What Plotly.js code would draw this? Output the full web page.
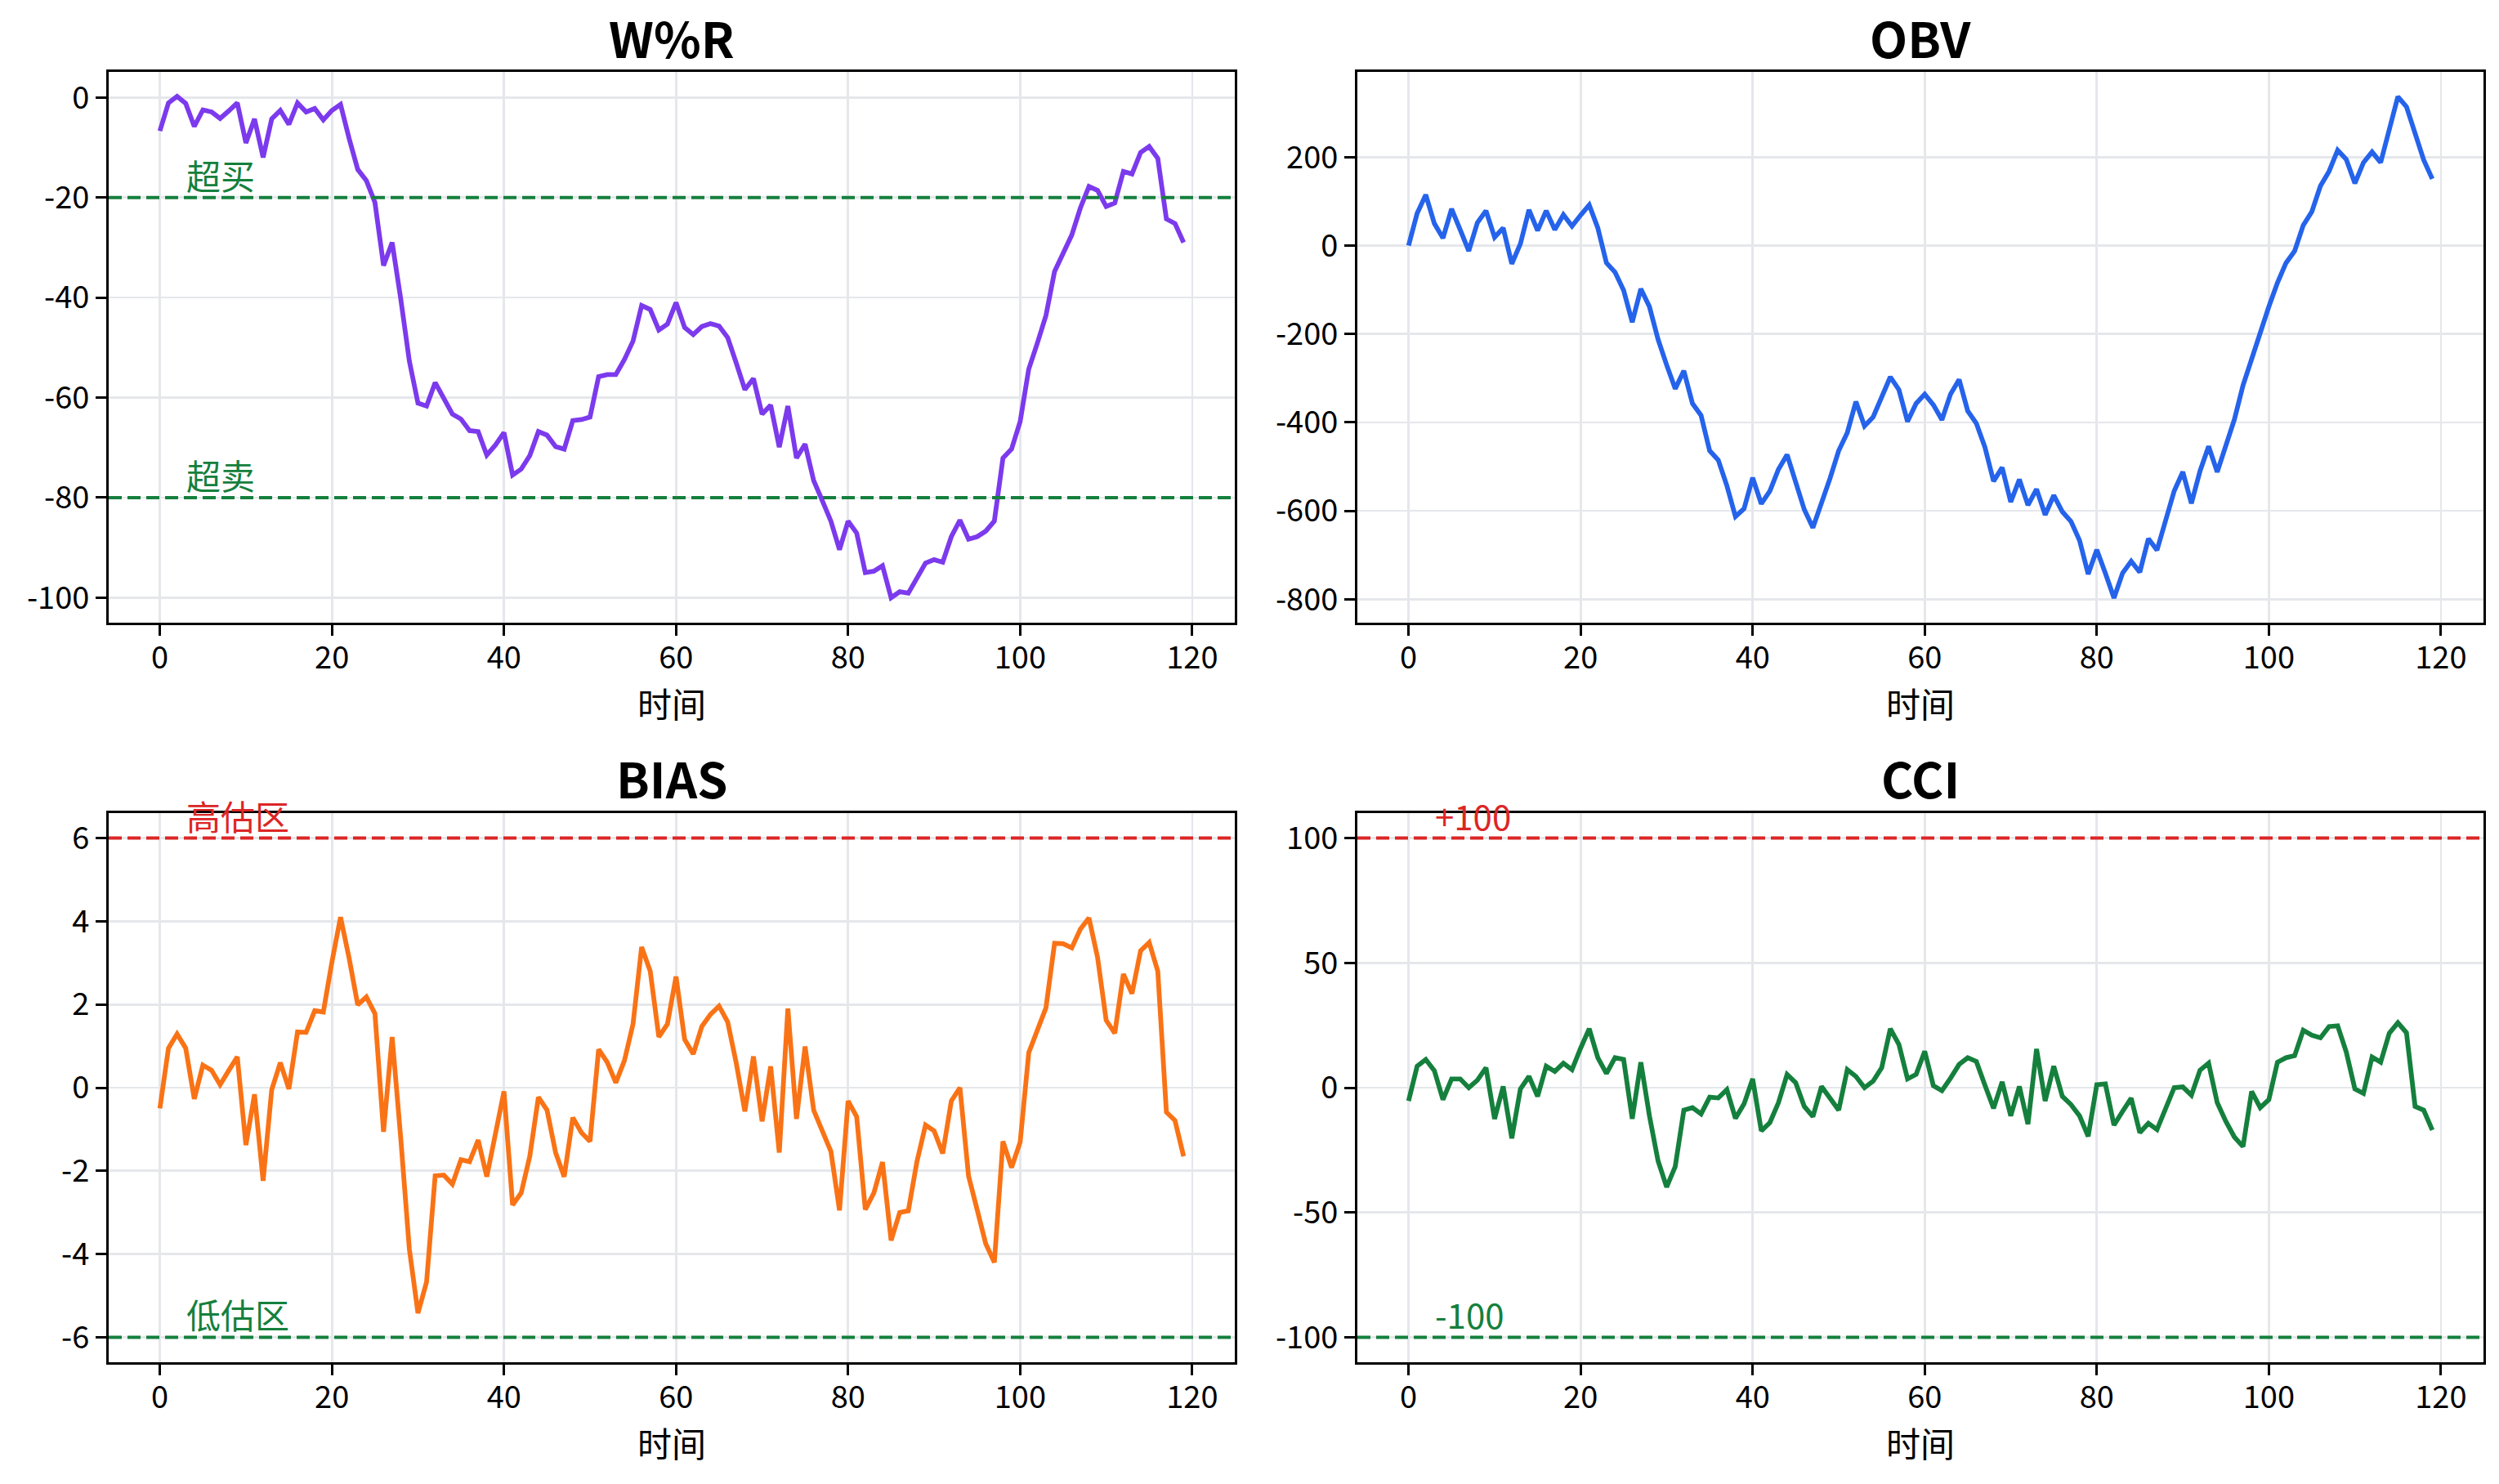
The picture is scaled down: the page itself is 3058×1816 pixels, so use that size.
<!DOCTYPE html>
<html><head><meta charset="utf-8">
<script src="https://cdn.plot.ly/plotly-3.0.1.min.js"></script>
<style>html,body{margin:0;padding:0;background:#fff}</style>
</head><body><div id="chart" style="width:3058px;height:1816px"></div>
<script>
const wr = [-6.7,-1.1,0.2,-1.2,-5.8,-2.5,-2.9,-4.2,-2.7,-1.1,
-9.1,-4.3,-12,-4.3,-2.6,-5.4,-1.1,-2.9,-2.2,-4.5,
-2.6,-1.4,-8.2,-14.4,-16.6,-21,-33.6,-29,-40.3,-52.7,
-61.1,-61.7,-57,-60,-63.3,-64.3,-66.6,-66.8,-71.5,-69.5,
-67,-75.5,-74.3,-71.6,-66.8,-67.5,-69.8,-70.3,-64.6,-64.4,
-63.9,-55.8,-55.4,-55.4,-52.4,-48.7,-41.6,-42.4,-46.5,-45.3,
-41,-46,-47.4,-45.8,-45.2,-45.7,-48,-53.1,-58.4,-56.2,
-63.3,-61.5,-69.9,-61.7,-72.1,-69.3,-76.6,-80.6,-84.7,-90.4,
-84.7,-87.1,-95,-94.7,-93.6,-100,-98.8,-99.1,-96.2,-93.1,
-92.4,-92.9,-87.8,-84.5,-88.3,-87.8,-86.7,-84.7,-72.1,-70.3,
-64.8,-54.3,-49.1,-43.6,-34.8,-31.2,-27.5,-22.1,-17.8,-18.6,
-21.8,-21.1,-14.8,-15.3,-11,-9.8,-12.2,-24.3,-25.2,-29];

const obv = [0,73,115,50,17,83,36,-12,52,79,
19,40,-41,4,81,34,79,36,70,44,
69,92,40,-39,-60,-101,-173,-98,-138,-212,
-270,-324,-283,-357,-384,-464,-485,-543,-613,-595,
-525,-584,-555,-506,-473,-535,-597,-638,-584,-526,
-464,-423,-353,-408,-388,-340,-297,-326,-398,-357,
-336,-360,-394,-336,-303,-374,-402,-456,-533,-502,
-580,-529,-587,-551,-609,-565,-602,-624,-667,-743,
-688,-741,-797,-741,-714,-739,-663,-689,-626,-555,
-512,-583,-510,-454,-512,-448,-393,-316,-254,-194,
-138,-84,-39,-12,46,77,135,168,216,195,
141,188,212,188,263,337,314,255,194,151];

const bias = [-0.5,0.95,1.29,0.95,-0.27,0.54,0.42,0.07,0.41,0.74,
-1.38,-0.16,-2.24,-0.05,0.6,-0.03,1.34,1.33,1.85,1.82,
3.02,4.1,3.11,1.99,2.18,1.78,-1.06,1.22,-1.22,-3.88,
-5.42,-4.67,-2.12,-2.1,-2.32,-1.73,-1.78,-1.26,-2.14,-1.04,
-0.09,-2.82,-2.53,-1.65,-0.23,-0.54,-1.56,-2.14,-0.72,-1.08,
-1.29,0.92,0.61,0.12,0.65,1.53,3.38,2.8,1.22,1.53,
2.67,1.16,0.81,1.47,1.76,1.96,1.58,0.59,-0.57,0.75,
-0.81,0.51,-1.56,1.9,-0.75,0.99,-0.54,-1.04,-1.53,-2.95,
-0.32,-0.7,-2.93,-2.53,-1.79,-3.67,-3.0,-2.96,-1.78,-0.9,
-1.04,-1.58,-0.32,0,-2.12,-2.93,-3.75,-4.2,-1.29,-1.92,
-1.31,0.84,1.4,1.92,3.47,3.46,3.36,3.81,4.08,3.13,
1.62,1.31,2.73,2.26,3.29,3.49,2.8,-0.59,-0.79,-1.65];

const cci = [-5.3,8.6,11.3,6.8,-4.8,3.5,3.5,0,3,8,
-12.5,0.5,-20.3,-0.5,4.5,-3.5,8.6,6.5,9.8,7.2,
15.8,23.6,12,5.7,12,11.3,-12.5,10.2,-11.3,-29.3,
-39.8,-31.6,-9,-8,-10.5,-3.8,-4.1,-0.8,-12.3,-6.5,
3.5,-17.3,-14,-6,5.3,2,-7.5,-11.6,0.5,-4.2,
-9,7.2,4.5,0,2.6,8,23.6,17.3,3.5,5.3,
14.6,0.8,-1.2,3.8,9.3,12,10.5,1,-8.3,2.3,
-11.3,0.5,-14.6,15.5,-5.3,8.6,-3.5,-6.8,-11.3,-19.5,
1.2,1.5,-15,-9.5,-4.2,-18,-14.3,-16.8,-8,0,
0.3,-3,7,9.8,-6,-13.5,-19.8,-23.6,-1.5,-8,
-4.8,10.2,12,12.8,23,21,20,24.5,24.8,14.3,
-0.5,-2.3,12.3,10.2,21.8,26,22,-7.5,-9,-17];

const panelTitles = ['W%R', 'OBV', 'BIAS', 'CCI'];
const xAxisLabel = '时间';
const xTicks = [0, 20, 40, 60, 80, 100, 120];
const wrTicks = [0, -20, -40, -60, -80, -100];
const obvTicks = [200, 0, -200, -400, -600, -800];
const biasTicks = [6, 4, 2, 0, -2, -4, -6];
const cciTicks = [100, 50, 0, -50, -100];
const wrLevels = [-20, -80];
const wrLevelLabels = ['超买', '超卖'];
const biasLevels = [6, -6];
const biasLevelLabels = ['高估区', '低估区'];
const cciLevels = [100, -100];
const cciLevelLabels = ['+100', '-100'];
const labelX = 3;

const time = wr.map((_, i) => i);

const FONT = '"Noto Sans CJK SC", "Noto Sans", sans-serif';
const C = {purple: '#7c3aed', blue: '#2563eb', orange: '#f97316', green: '#15803d', red: '#dc2626'};

const series = [
  {y: wr, color: C.purple, ticks: wrTicks, range: [-105, 5.1]},
  {y: obv, color: C.blue, ticks: obvTicks, range: [-853, 393]},
  {y: bias, color: C.orange, ticks: biasTicks, range: [-6.6, 6.6]},
  {y: cci, color: C.green, ticks: cciTicks, range: [-110, 110]}
];

const W = 3058, H = 1816;
const xDomains = [[133/W, 1511/W], [1661/W, 3039/W]];
const yDomains = [[1 - 762/H, 1 - 88/H], [1 - 1667/H, 1 - 995/H]];

const traces = [];
const layout = {
  width: W, height: H,
  margin: {l: 0, r: 0, t: 0, b: 0},
  paper_bgcolor: '#ffffff', plot_bgcolor: '#ffffff',
  font: {family: FONT, color: '#000000', size: 38},
  showlegend: false,
  annotations: [], shapes: []
};

series.forEach((s, k) => {
  const n = k + 1;
  const xa = 'xaxis' + (n === 1 ? '' : n);
  const ya = 'yaxis' + (n === 1 ? '' : n);
  const xr = 'x' + (n === 1 ? '' : n);
  const yr = 'y' + (n === 1 ? '' : n);
  traces.push({
    x: time, y: s.y, type: 'scatter', mode: 'lines',
    xaxis: xr, yaxis: yr,
    line: {color: s.color, width: 5.8},
    hoverinfo: 'skip'
  });
  const common = {
    showline: true, mirror: true, linecolor: '#000000', linewidth: 3,
    ticks: 'outside', ticklen: 13, tickwidth: 3, tickcolor: '#000000',
    showgrid: true, gridcolor: '#e5e7eb', gridwidth: 2.7,
    zeroline: false, tickfont: {family: FONT, size: 38, color: '#000000'}
  };
  layout[xa] = Object.assign({}, common, {
    domain: xDomains[k % 2], anchor: yr,
    range: [-5.95, 124.95], tickmode: 'array', tickvals: xTicks,
    ticktext: xTicks.map(String), ticklabelstandoff: -6,
    title: {text: xAxisLabel, font: {family: FONT, size: 42, color: '#000000'}, standoff: 18}
  });
  layout[ya] = Object.assign({}, common, {
    domain: yDomains[Math.floor(k / 2)], anchor: xr,
    range: s.range, tickmode: 'array', tickvals: s.ticks,
    ticktext: s.ticks.map(String)
  });
  layout.annotations.push({
    text: '<b>' + panelTitles[k] + '</b>', xref: xr + ' domain', yref: yr + ' domain',
    x: 0.5, y: 1, xanchor: 'center', yanchor: 'middle', yshift: 44, showarrow: false,
    font: {family: FONT, size: 60, color: '#000000'}
  });
});

function addLevels(n, levels, labels, colors) {
  const xr = 'x' + (n === 1 ? '' : n);
  const yr = 'y' + (n === 1 ? '' : n);
  levels.forEach((v, i) => {
    layout.shapes.push({
      type: 'line', xref: xr + ' domain', yref: yr, x0: 0, x1: 1, y0: v, y1: v,
      line: {color: colors[i], width: 4, dash: '16px,7px'}, layer: 'above'
    });
    layout.annotations.push({
      text: labels[i], xref: xr, yref: yr, x: labelX, y: v,
      xanchor: 'left', yanchor: 'bottom', yshift: -3, showarrow: false, borderpad: 0,
      font: {family: FONT, size: 42, color: colors[i]}
    });
  });
}
addLevels(1, wrLevels, wrLevelLabels, [C.green, C.green]);
addLevels(3, biasLevels, biasLevelLabels, [C.red, C.green]);
addLevels(4, cciLevels, cciLevelLabels, [C.red, C.green]);

Plotly.newPlot('chart', traces, layout, {staticPlot: true, displayModeBar: false});
</script></body></html>
